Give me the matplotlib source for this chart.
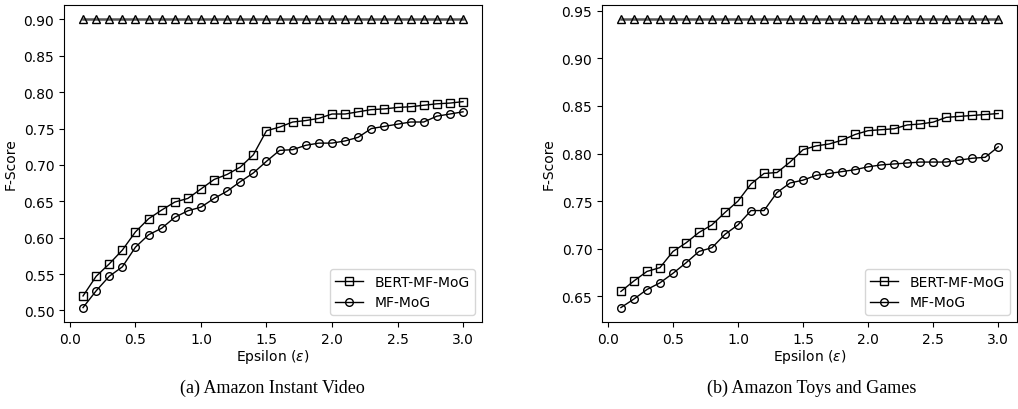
import numpy as np
import matplotlib
matplotlib.use("Agg")
import matplotlib.pyplot as plt

# Data --------------------------------------------------------------
eps = np.round(np.arange(1, 31) * 0.1, 1)

# (a) Amazon Instant Video
upper_a = [0.90] * 30
bert_a = [0.520, 0.547, 0.564, 0.583, 0.608, 0.626, 0.638, 0.649, 0.654, 0.667,
          0.680, 0.687, 0.697, 0.714, 0.747, 0.752, 0.759, 0.761, 0.764, 0.770,
          0.770, 0.773, 0.776, 0.777, 0.779, 0.780, 0.782, 0.784, 0.785, 0.787]
mf_a = [0.504, 0.527, 0.547, 0.560, 0.587, 0.604, 0.613, 0.628, 0.637, 0.642,
        0.654, 0.664, 0.677, 0.689, 0.705, 0.720, 0.721, 0.727, 0.730, 0.730,
        0.733, 0.738, 0.750, 0.753, 0.756, 0.759, 0.759, 0.767, 0.770, 0.773]

# (b) Amazon Toys and Games
upper_b = [0.941] * 30
bert_b = [0.655, 0.666, 0.676, 0.680, 0.697, 0.706, 0.717, 0.725, 0.738, 0.750,
          0.768, 0.779, 0.780, 0.791, 0.804, 0.808, 0.810, 0.814, 0.820, 0.824,
          0.825, 0.826, 0.830, 0.831, 0.833, 0.838, 0.839, 0.840, 0.841, 0.842]
mf_b = [0.638, 0.647, 0.657, 0.664, 0.674, 0.685, 0.697, 0.701, 0.715, 0.725,
        0.740, 0.740, 0.759, 0.769, 0.772, 0.777, 0.779, 0.781, 0.783, 0.786,
        0.788, 0.789, 0.790, 0.791, 0.791, 0.791, 0.793, 0.795, 0.796, 0.807]

captions = ['(a) Amazon Instant Video', '(b) Amazon Toys and Games']
panels = [(upper_a, bert_a, mf_a), (upper_b, bert_b, mf_b)]

# Figure ------------------------------------------------------------
plt.rcParams['font.family'] = 'DejaVu Sans'
plt.rcParams['mathtext.fontset'] = 'dejavusans'
plt.rcParams['font.size'] = 10
fig = plt.figure(figsize=(10.18, 4.10), dpi=100)

ax_pos = [[0.0629, 0.2122, 0.4106, 0.7732],
          [0.5914, 0.2122, 0.4077, 0.7732]]
cap_x = [0.268, 0.797]

for ii, (up, bert, mf) in enumerate(panels):
    ax = fig.add_axes(ax_pos[ii])
    ax.plot(eps, up, color='#555555', lw=1.8, marker='^', ms=5.5,
            mfc='none', mec='black', mew=1.0)
    ax.plot(eps, bert, color='black', lw=1.0, marker='s', ms=5.5,
            mfc='none', mec='black', mew=1.0, label='BERT-MF-MoG')
    ax.plot(eps, mf, color='black', lw=1.0, marker='o', ms=5.5,
            mfc='none', mec='black', mew=1.0, label='MF-MoG')

    ax.set_xticks(np.arange(0, 3.01, 0.5))
    ax.set_xlabel(r'Epsilon ($\epsilon$)', labelpad=1)
    ax.set_ylabel('F-Score')
    ax.legend(loc='lower right')

    fig.text(cap_x[ii], 0.054, captions[ii], ha='center', va='center',
             family='Liberation Serif', fontsize=13)

fig.savefig('out.png', dpi=100)
